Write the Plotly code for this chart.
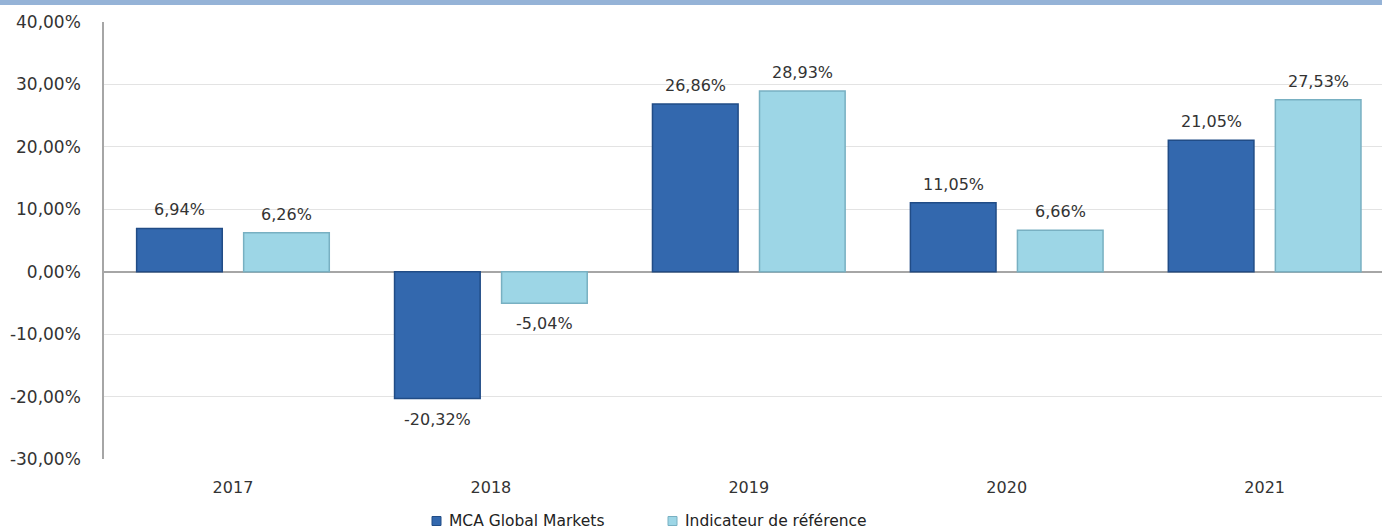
import plotly.graph_objects as go

years = ["2017", "2018", "2019", "2020", "2021"]
mca = [6.94, -20.32, 26.86, 11.05, 21.05]
ref = [6.26, -5.04, 28.93, 6.66, 27.53]
series_names = ["MCA Global Markets", "Indicateur de référence"]
y_ticks = [-30, -20, -10, 0, 10, 20, 30, 40]
colors = ["#3368AE", "#9DD6E6"]
edge_colors = ["#214C86", "#78B0C2"]

def fmt(v):
    return f"{v:.2f}".replace(".", ",") + "%"

W, H = 1382, 531
L, T, B = 104, 22, 72
ph = H - T - B
pw = W - L

fig = go.Figure()
annotations = []
for k, (vals, shift) in enumerate([(mca, -53.5), (ref, 53.5)]):
    fig.add_trace(go.Bar(
        x=years, y=vals, name=series_names[k], showlegend=False,
        marker=dict(color=colors[k], line=dict(color=edge_colors[k], width=1.5)),
    ))
    for i, v in enumerate(vals):
        annotations.append(dict(
            x=i, y=v, xref="x", yref="y", xshift=shift,
            yanchor="bottom" if v >= 0 else "top",
            yshift=7 if v >= 0 else -9,
            text=fmt(v), showarrow=False,
            font=dict(family="DejaVu Sans", size=16, color="#333333"),
        ))

# custom legend (small squares like the reference)
shapes = [dict(type="rect", xref="paper", yref="paper",
               x0=-1, x1=1.1, y0=1 + (T - 5) / ph, y1=1 + (T + 2) / ph,
               fillcolor="#95B3D7", line=dict(width=0), layer="above")]
leg_sq = [432, 668]
leg_y = 521
for k in range(2):
    x0 = (leg_sq[k] - L) / pw
    x1 = (leg_sq[k] + 9 - L) / pw
    shapes.append(dict(type="rect", xref="paper", yref="paper",
                       x0=x0, x1=x1,
                       y0=-(leg_y - 4.5 - (H - B)) / ph, y1=-(leg_y + 4.5 - (H - B)) / ph,
                       fillcolor=colors[k], line=dict(color=edge_colors[k], width=1)))
    annotations.append(dict(
        x=(leg_sq[k] + 15 - L) / pw, y=-(leg_y - (H - B)) / ph,
        xref="paper", yref="paper", xanchor="left", yanchor="middle",
        text=series_names[k], showarrow=False,
        font=dict(family="DejaVu Sans", size=15.5, color="#222222"),
    ))

fig.update_layout(
    width=W, height=H,
    margin=dict(l=L, r=0, t=T, b=B, autoexpand=False),
    paper_bgcolor="white", plot_bgcolor="white",
    barmode="group", bargap=0.17, bargroupgap=0.2,
    font=dict(family="DejaVu Sans", size=14, color="#333333"),
    showlegend=False,
    xaxis=dict(type="category", range=[-0.5, 4.455], showgrid=False, showline=False,
               ticks="", ticklabelstandoff=17,
               tickfont=dict(family="DejaVu Sans", size=16, color="#333333")),
    yaxis=dict(range=[-30, 40], tickvals=y_ticks,
               ticktext=[fmt(v) for v in y_ticks],
               showgrid=True, gridcolor="#E3E3E3", gridwidth=1,
               zeroline=True, zerolinecolor="#A6A6A6", zerolinewidth=1.5,
               showline=True, linecolor="#A6A6A6", linewidth=1.5,
               ticks="", ticklabelstandoff=18,
               tickfont=dict(family="DejaVu Sans", size=17, color="#333333")),
    shapes=shapes,
    annotations=annotations,
)

fig.write_html("out.html")
